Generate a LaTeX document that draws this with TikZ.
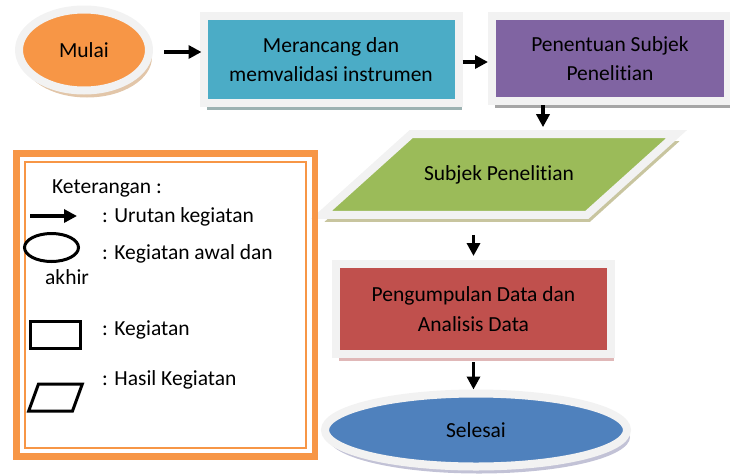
\documentclass[tikz,border=0pt]{standalone}
\usepackage{fontspec}
\setmainfont{Carlito}[Ligatures=NoCommon]
\usetikzlibrary{shapes.geometric, arrows.meta, positioning, shadows}
\definecolor{halo}{HTML}{F2F2F2}
\definecolor{mulaifill}{HTML}{F79646}
\definecolor{tealfill}{HTML}{4BACC6}
\definecolor{ungufill}{HTML}{8064A2}
\definecolor{hijaufill}{HTML}{9BBB59}
\definecolor{merahfill}{HTML}{C0504D}
\definecolor{birufill}{HTML}{4F81BD}
\definecolor{legendframe}{HTML}{F79646}

\begin{document}
\begin{tikzpicture}[x=1pt, y=-1pt,
    blok/.style={draw=halo, line width=8pt, fill=#1, align=center, inner sep=0pt, font=\fontsize{21.5}{29.5}\selectfont},
    bayang/.style={drop shadow={shadow xshift=3pt, shadow yshift=-7pt, fill=#1, opacity=1}},
    flow/.style={-{Triangle[length=13pt, width=13pt]}, line width=3.5pt, black},
    legtext/.style={anchor=base west, inner sep=0pt, font=\fontsize{21.5}{24}\selectfont},
    legshape/.style={draw=black, line width=3pt, inner sep=0pt}
]
\useasboundingbox (0,0) rectangle (730,474);

% Alur utama
\node[blok=mulaifill, bayang={brown!45}, ellipse, minimum width=130pt, minimum height=81pt] (mulai) at (84,50) {Mulai};
\node[blok=tealfill, bayang={gray!70!teal!60}, rectangle, minimum width=255pt, minimum height=87pt] (rancang) at (331,59.5) {Merancang dan\\memvalidasi instrumen};
\node[blok=ungufill, bayang={gray!70}, rectangle, minimum width=236pt, minimum height=85pt] (penentuan) at (610,58.5) {Penentuan Subjek\\Penelitian};
\node[blok=hijaufill, bayang={gray!60!olive!50}, trapezium, trapezium left angle=42, trapezium right angle=138, inner xsep=13pt, inner ysep=31pt] (subjek) at (499,174.5) {Subjek Penelitian};
\node[blok=merahfill, bayang={gray!60!red!40}, rectangle, minimum width=275pt, minimum height=90pt] (pengumpulan) at (473.5,309) {Pengumpulan Data dan\\Analisis Data};
\node[blok=birufill, bayang={gray!80!blue!40}, ellipse, minimum width=302pt, minimum height=73pt] (selesai) at (476,430) {Selesai};

% Panah
\draw[flow] ([xshift=11pt,yshift=-2pt]mulai.east) -- ([xshift=2pt,yshift=-2pt]mulai.east -| rancang.west);
\draw[flow] ([yshift=-2.5pt]rancang.east) -- ([yshift=-2.5pt]rancang.east -| penentuan.west);
\draw[flow] ([xshift=-67pt]penentuan.south) -- ([xshift=-67pt,yshift=3pt]penentuan.south |- subjek.north);
\draw[flow] ([yshift=-16pt]subjek.south -| pengumpulan.north) -- ([yshift=4pt]pengumpulan.north);
\draw[flow] ([yshift=-4pt]pengumpulan.south) -- (pengumpulan.south |- selesai.north);

% Keterangan
\draw[legendframe, line width=6.5pt] (16.5,153.5) rectangle (315,456.5);
\draw[legendframe, line width=1.5pt] (25,162) rectangle (306,448);

\node[legtext] (ket) at (52,193) {Keterangan :};
\coordinate (panahA) at (30,216);
\coordinate (panahB) at (77,216);
\draw[flow] (panahA) -- (panahB);
\node[legtext] (urutan) at (102,222) {: Urutan kegiatan};
\node[legshape, ellipse, minimum width=54pt, minimum height=28pt] (legelips) at (51.5,247.5) {};
\node[legtext] (awal) at (102,259) {: Kegiatan awal dan};
\node[legtext] (akhir) at (45,284) {akhir};
\node[legshape, rectangle, minimum width=50pt, minimum height=27pt] (legkotak) at (55.5,335) {};
\node[legtext] (kegiatan) at (102,335) {: Kegiatan};
\node[legshape, trapezium, trapezium left angle=70, trapezium right angle=110, inner xsep=17pt, inner ysep=13.5pt] (legjajar) at (55.5,397.5) {};
\node[legtext] (hasil) at (102,385) {: Hasil Kegiatan};

\end{tikzpicture}
\end{document}
